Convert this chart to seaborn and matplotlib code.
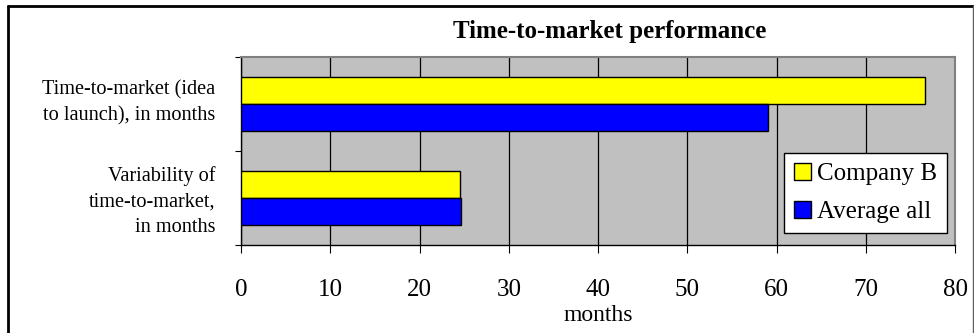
import matplotlib
matplotlib.use("Agg")
import matplotlib.pyplot as plt
import matplotlib.transforms as mtransforms
import seaborn as sns
import pandas as pd
from matplotlib.lines import Line2D

categories = ["Time-to-market (idea\nto launch), in months",
              "Variability of\ntime-to-market,\nin months"]
series_names = ["Company B", "Average all"]
company_b = [76.6, 24.5]
average_all = [59.1, 24.7]
x_ticks = [0, 10, 20, 30, 40, 50, 60, 70, 80]
title = "Time-to-market performance"
x_label = "months"

df = pd.DataFrame({
    "category": categories * 2,
    "series": [series_names[0]] * len(categories) + [series_names[1]] * len(categories),
    "value": company_b + average_all,
})

sns.set_theme(style="white")
plt.rcParams["font.family"] = ["Liberation Serif", "DejaVu Serif"]
plt.rcParams["text.color"] = "black"
plt.rcParams["axes.labelcolor"] = "black"
plt.rcParams["xtick.color"] = "black"
plt.rcParams["ytick.color"] = "black"

W, H = 974, 333
fig = plt.figure(figsize=(W / 100, H / 100), dpi=100)
L, R, T, B = 241, 955, 56.5, 245
ax = fig.add_axes([L / W, 1 - B / H, (R - L) / W, (B - T) / H])
ax.set_facecolor("#C0C0C0")

sns.barplot(data=df, x="value", y="category", hue="series", orient="h",
            palette=["#FFFF00", "#0000FF"], width=0.575, edgecolor="black",
            linewidth=1.0, saturation=1, ax=ax, legend=True, zorder=3)

ax.set_xlim(0, 80)
ax.set_ylim(1.5, -0.5)
ax.set_xticks(x_ticks)
ax.set_xticklabels([str(v) for v in x_ticks])
ax.grid(axis="x", color="black", linewidth=0.9, zorder=0)
ax.set_axisbelow(True)
ax.grid(axis="y", visible=False)

ax.set_ylabel("")
ax.set_xlabel(x_label, fontsize=17, labelpad=3)
ax.tick_params(axis="x", which="major", direction="out", length=5.8, width=0.8,
               color="black", labelsize=18, pad=18.5, bottom=True)
ax.tick_params(axis="y", which="major", length=0, labelsize=14.6, pad=18.7)
label_shifts_px = [6.5, 2.0]
for lbl, dy in zip(ax.get_yticklabels(), label_shifts_px):
    lbl.set_linespacing(1.47)
    lbl.set_transform(lbl.get_transform()
                      + mtransforms.ScaledTranslation(0, dy / 100, fig.dpi_scale_trans))
ax.set_yticks([-0.5, 0.5, 1.5], minor=True)
ax.tick_params(axis="y", which="minor", direction="out", length=4.3, width=0.8,
               color="black", left=True)

for s in ["left", "bottom"]:
    ax.spines[s].set_color("black")
    ax.spines[s].set_linewidth(1.0)
for s in ["top", "right"]:
    ax.spines[s].set_color("#808080")
    ax.spines[s].set_linewidth(1.5)

leg = ax.legend(loc="upper left", bbox_to_anchor=((784 - L) / (R - L), (B - 153) / (B - T)),
                borderaxespad=0, fontsize=18, frameon=True, fancybox=False,
                handlelength=0.67, handleheight=0.67, handletextpad=0.25,
                labelspacing=0.62, borderpad=0.4, edgecolor="black", facecolor="white",
                framealpha=1)
leg.get_frame().set_linewidth(1.0)
for h in leg.legend_handles:
    h.set_edgecolor("black")
    h.set_linewidth(1.0)

fig.text(610 / W, 1 - 38 / H, title, ha="center", va="baseline",
         fontsize=18, fontweight="bold")

# outer chart frame
fig.add_artist(Line2D([8 / W, 973 / W], [1 - 6 / H, 1 - 6 / H], color="black", linewidth=2,
                      transform=fig.transFigure))
fig.add_artist(Line2D([8 / W, 8 / W], [1 - 6 / H, 0], color="black", linewidth=2,
                      transform=fig.transFigure))
fig.add_artist(Line2D([973 / W, 973 / W], [1 - 6 / H, 0], color="#606060", linewidth=1,
                      transform=fig.transFigure))

fig.savefig("out.png", dpi=100)
